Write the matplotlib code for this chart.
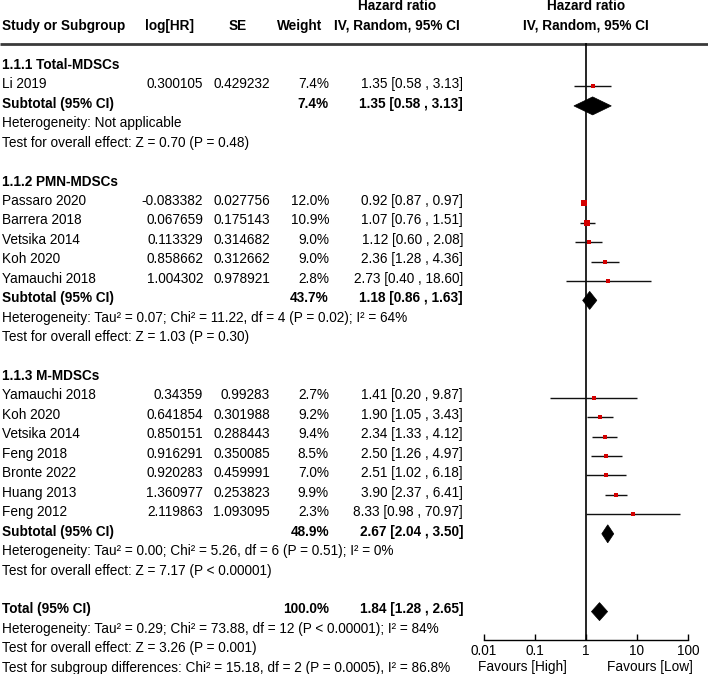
import matplotlib
matplotlib.use("Agg")
import matplotlib.pyplot as plt
from matplotlib.patches import Polygon

plt.rcParams['font.family'] = ['Liberation Sans', 'DejaVu Sans']

# ---------------- data ----------------
group_titles = ["1.1.1 Total-MDSCs", "1.1.2 PMN-MDSCs", "1.1.3 M-MDSCs"]

studies_1 = ["Li 2019"]
loghr_1 = [0.300105]
se_1 = [0.429232]
weight_1 = [7.4]
hr_1 = [1.35]
lo_1 = [0.58]
hi_1 = [3.13]

studies_2 = ["Passaro 2020", "Barrera 2018", "Vetsika 2014", "Koh 2020", "Yamauchi 2018"]
loghr_2 = [-0.083382, 0.067659, 0.113329, 0.858662, 1.004302]
se_2 = [0.027756, 0.175143, 0.314682, 0.312662, 0.978921]
weight_2 = [12.0, 10.9, 9.0, 9.0, 2.8]
hr_2 = [0.92, 1.07, 1.12, 2.36, 2.73]
lo_2 = [0.87, 0.76, 0.60, 1.28, 0.40]
hi_2 = [0.97, 1.51, 2.08, 4.36, 18.60]

studies_3 = ["Yamauchi 2018", "Koh 2020", "Vetsika 2014", "Feng 2018", "Bronte 2022", "Huang 2013", "Feng 2012"]
loghr_3 = [0.34359, 0.641854, 0.850151, 0.916291, 0.920283, 1.360977, 2.119863]
se_3 = [0.99283, 0.301988, 0.288443, 0.350085, 0.459991, 0.253823, 1.093095]
weight_3 = [2.7, 9.2, 9.4, 8.5, 7.0, 9.9, 2.3]
hr_3 = [1.41, 1.90, 2.34, 2.50, 2.51, 3.90, 8.33]
lo_3 = [0.20, 1.05, 1.33, 1.26, 1.02, 2.37, 0.98]
hi_3 = [9.87, 3.43, 4.12, 4.97, 6.18, 6.41, 70.97]

sub_weight = [7.4, 43.7, 48.9]
sub_hr = [1.35, 1.18, 2.67]
sub_lo = [0.58, 0.86, 2.04]
sub_hi = [3.13, 1.63, 3.50]
sub_het = ["Heterogeneity: Not applicable",
           "Heterogeneity: Tau² = 0.07; Chi² = 11.22, df = 4 (P = 0.02); I² = 64%",
           "Heterogeneity: Tau² = 0.00; Chi² = 5.26, df = 6 (P = 0.51); I² = 0%"]
sub_test = ["Test for overall effect: Z = 0.70 (P = 0.48)",
            "Test for overall effect: Z = 1.03 (P = 0.30)",
            "Test for overall effect: Z = 7.17 (P < 0.00001)"]

total_weight = 100.0
total_hr = 1.84
total_lo = 1.28
total_hi = 2.65
total_lines = ["Heterogeneity: Tau² = 0.29; Chi² = 73.88, df = 12 (P < 0.00001); I² = 84%",
               "Test for overall effect: Z = 3.26 (P = 0.001)",
               "Test for subgroup differences: Chi² = 15.18, df = 2 (P = 0.0005), I² = 86.8%"]

axis_ticks = [0.01, 0.1, 1, 10, 100]
axis_ticklabels = ["0.01", "0.1", "1", "10", "100"]
favours_left = "Favours [High]"
favours_right = "Favours [Low]"

groups = [
    (studies_1, loghr_1, se_1, weight_1, hr_1, lo_1, hi_1),
    (studies_2, loghr_2, se_2, weight_2, hr_2, lo_2, hi_2),
    (studies_3, loghr_3, se_3, weight_3, hr_3, lo_3, hi_3),
]

# ---------------- layout (pixels) ----------------
W, H = 708, 674
FS = 9.8
Y0, PITCH = 64.0, 19.45
BASE = 4.8          # baseline offset below visual centre
MOFF = 3.0          # mark offset below text centre
X_LABEL = 2
X_LOGHR = 203
X_SE = 270
X_WEIGHT = 329
X_CI = 463
AX_L, AX_R = 484, 688
AX_TOP, AX_BOT = 43, 640

fig = plt.figure(figsize=(W / 100, H / 100), dpi=100)
tax = fig.add_axes([0, 0, 1, 1])
tax.set_xlim(0, W)
tax.set_ylim(H, 0)
tax.axis("off")

pax = fig.add_axes([AX_L / W, (H - AX_BOT) / H, (AX_R - AX_L) / W, (AX_BOT - AX_TOP) / H])
pax.set_xscale("log")
pax.set_xlim(axis_ticks[0], axis_ticks[-1])
pax.set_ylim(AX_BOT, AX_TOP)
pax.patch.set_alpha(0)
for s in ["top", "left", "right"]:
    pax.spines[s].set_visible(False)
pax.spines["bottom"].set_linewidth(1.0)
pax.set_yticks([])
pax.set_xticks(axis_ticks)
pax.set_xticklabels(axis_ticklabels)
pax.minorticks_off()
pax.tick_params(axis="x", direction="in", length=4, width=1.0, pad=3, labelsize=FS)


def txt(x, yc, s, ha="left", bold=False):
    tax.text(x, yc + BASE, s, ha=ha, va="baseline", fontsize=FS,
             fontweight="bold" if bold else "normal", color="black")


def ci_str(h, l, u):
    return f"{h:.2f} [{l:.2f} , {u:.2f}]"


def diamond(yc, h, l, u):
    y = yc + MOFF
    poly = Polygon([(l, y), (h, y - 9), (u, y), (h, y + 9)], closed=True,
                   facecolor="black", edgecolor="black", lw=0.5, clip_on=False)
    pax.add_patch(poly)


# headers
tax.text(397, 6, "Hazard ratio", ha="center", va="center", fontsize=FS, fontweight="bold")
tax.text(586, 6, "Hazard ratio", ha="center", va="center", fontsize=FS, fontweight="bold")
txt(X_LABEL, 25, "Study or Subgroup", bold=True)
txt(169, 25, "log[HR]", ha="center", bold=True)
txt(238, 25, "SE", ha="center", bold=True)
txt(300, 25, "Weight", ha="center", bold=True)
txt(397, 25, "IV, Random, 95% CI", ha="center", bold=True)
txt(586, 25, "IV, Random, 95% CI", ha="center", bold=True)
tax.plot([0, W], [43.5, 43.5], color="#3a3a3a", lw=2.0, solid_capstyle="butt")

pax.axvline(1, color="black", lw=1.2)

row = 0
for gi, (names, lhr, se, wt, hr, lo, hi) in enumerate(groups):
    txt(X_LABEL, Y0 + PITCH * row, group_titles[gi], bold=True)
    row += 1
    for k in range(len(names)):
        yc = Y0 + PITCH * row
        txt(X_LABEL, yc, names[k])
        txt(X_LOGHR, yc, str(lhr[k]), ha="right")
        txt(X_SE, yc, str(se[k]), ha="right")
        txt(X_WEIGHT, yc, f"{wt[k]:.1f}%", ha="right")
        txt(X_CI, yc, ci_str(hr[k], lo[k], hi[k]), ha="right")
        pax.plot([lo[k], hi[k]], [yc + MOFF, yc + MOFF], color="#111111", lw=1.0,
                 solid_capstyle="butt", clip_on=False)
        pax.plot([hr[k]], [yc + MOFF], marker="s", color="#d40000",
                 ms=2.6 + 0.1 * wt[k], mew=0, clip_on=False)
        row += 1
    yc = Y0 + PITCH * row
    txt(X_LABEL, yc, "Subtotal (95% CI)", bold=True)
    txt(X_WEIGHT, yc, f"{sub_weight[gi]:.1f}%", ha="right", bold=True)
    txt(X_CI, yc, ci_str(sub_hr[gi], sub_lo[gi], sub_hi[gi]), ha="right", bold=True)
    diamond(yc, sub_hr[gi], sub_lo[gi], sub_hi[gi])
    row += 1
    txt(X_LABEL, Y0 + PITCH * row, sub_het[gi])
    row += 1
    txt(X_LABEL, Y0 + PITCH * row, sub_test[gi])
    row += 2

yc = Y0 + PITCH * row
txt(X_LABEL, yc, "Total (95% CI)", bold=True)
txt(X_WEIGHT, yc, f"{total_weight:.1f}%", ha="right", bold=True)
txt(X_CI, yc, ci_str(total_hr, total_lo, total_hi), ha="right", bold=True)
diamond(yc, total_hr, total_lo, total_hi)
row += 1
for line in total_lines:
    txt(X_LABEL, Y0 + PITCH * row, line)
    row += 1

txt(522, 666, favours_left, ha="center")
txt(650, 666, favours_right, ha="center")

fig.savefig("out.png", dpi=100, facecolor="white")
